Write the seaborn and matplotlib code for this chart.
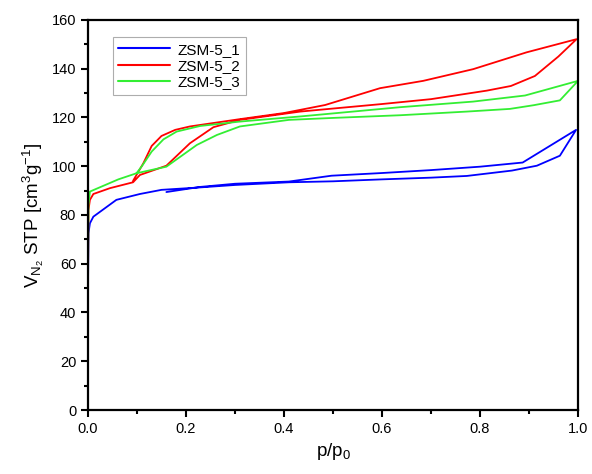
import pandas as pd
import seaborn as sns
import matplotlib.pyplot as plt

# Isotherm data: adsorption branch up to p/p0 ~ 1, then desorption back down
p_zsm1 = [0.0, 0.0003, 0.001, 0.004, 0.011, 0.058, 0.106, 0.15, 0.229, 0.3, 0.41, 0.5, 0.6, 0.7,
          0.773, 0.865, 0.916, 0.963, 0.996,
          0.887, 0.8, 0.7, 0.6, 0.497, 0.41, 0.3, 0.229, 0.16]
v_zsm1 = [5, 55, 72.5, 76.6, 79.3, 86.2, 88.6, 90.3, 91.3, 92.3, 93.4, 93.8, 94.6, 95.3,
          96.0, 98.2, 100.2, 104.3, 114.9,
          101.5, 99.8, 98.4, 97.2, 96.1, 93.7, 92.8, 91.5, 89.4]

p_zsm2 = [0.0, 0.0003, 0.001, 0.004, 0.011, 0.045, 0.092, 0.106, 0.16, 0.208, 0.256, 0.31, 0.433,
          0.6, 0.7, 0.814, 0.863, 0.912, 0.96, 0.997,
          0.895, 0.786, 0.684, 0.596, 0.484, 0.4, 0.31, 0.208, 0.178, 0.15, 0.13, 0.113, 0.092]
v_zsm2 = [5, 60, 82, 86.2, 88.6, 91.0, 93.4, 96.4, 100.2, 109.4, 116.0, 119.0, 122.4,
          125.5, 127.5, 131.0, 132.9, 137.0, 145.0, 152.1,
          146.7, 139.8, 135.0, 132.0, 125.1, 121.8, 119.3, 116.3, 114.9, 112.4, 108.3, 101.2, 94.0]

p_zsm3 = [0.0, 0.0003, 0.001, 0.004, 0.011, 0.062, 0.099, 0.16, 0.222, 0.263, 0.31, 0.41,
          0.5, 0.637, 0.773, 0.861, 0.909, 0.963, 1.0,
          0.892, 0.786, 0.637, 0.433, 0.31, 0.229, 0.181, 0.154, 0.13, 0.11, 0.099]
v_zsm3 = [5, 62, 84, 89.6, 90.2, 94.6, 97.1, 99.8, 108.7, 112.8, 116.3, 119.0,
          119.8, 120.9, 122.4, 123.5, 125.0, 127.0, 135.0,
          129.0, 126.5, 124.2, 120.4, 118.3, 116.5, 114.2, 111.0, 106.0, 100.0, 97.1]

names = ["ZSM-5_1", "ZSM-5_2", "ZSM-5_3"]
colors = ["#0000ff", "#ff0000", "#33ee33"]

frames = []
for name, p, v in zip(names, [p_zsm1, p_zsm2, p_zsm3], [v_zsm1, v_zsm2, v_zsm3]):
    frames.append(pd.DataFrame({"p": p, "V": v, "sample": name}))
df = pd.concat(frames, ignore_index=True)

sns.set_style("ticks")
plt.rcParams["font.family"] = ["Liberation Sans", "DejaVu Sans"]
plt.rcParams["mathtext.fontset"] = "custom"
plt.rcParams["mathtext.rm"] = "Liberation Sans"
plt.rcParams["mathtext.it"] = "Liberation Sans"
plt.rcParams["mathtext.default"] = "regular"
for key in ["text.color", "axes.labelcolor", "xtick.color", "ytick.color", "axes.edgecolor"]:
    plt.rcParams[key] = "black"

fig = plt.figure(figsize=(5.92, 4.74), dpi=100)
ax = fig.add_axes([0.1486, 0.135, 0.8278, 0.823])

sns.lineplot(data=df, x="p", y="V", hue="sample", palette=colors, sort=False,
             estimator=None, units="sample", linewidth=1.3, ax=ax)

ax.set_xlim(0, 1.0)
ax.set_ylim(0, 160)
ax.set_xticks([0.0, 0.2, 0.4, 0.6, 0.8, 1.0])
ax.set_xticks([0.1, 0.3, 0.5, 0.7, 0.9], minor=True)
ax.set_yticks(range(0, 161, 20))
ax.set_yticks(range(10, 160, 20), minor=True)
ax.tick_params(axis="both", which="major", direction="out", length=5, width=1.5,
               labelsize=10.5, top=False, right=False)
ax.tick_params(axis="both", which="minor", direction="out", length=3, width=1.5,
               top=False, right=False)
for s in ax.spines.values():
    s.set_linewidth(1.6)
    s.set_visible(True)

ax.set_xlabel("p/p$_0$", fontsize=13.5)
ax.set_ylabel(r"V$_{N_2}$ STP [cm$^3$g$^{-1}$]", fontsize=13.5)

leg = ax.legend(loc="upper left", bbox_to_anchor=(0.035, 0.975), fontsize=11,
                frameon=True, fancybox=False, edgecolor="#999999", handlelength=3.4,
                borderpad=0.35, labelspacing=0.15, handletextpad=0.5)
leg.get_frame().set_linewidth(0.8)
for line in leg.get_lines():
    line.set_linewidth(1.5)

fig.savefig("out.png", dpi=100)
